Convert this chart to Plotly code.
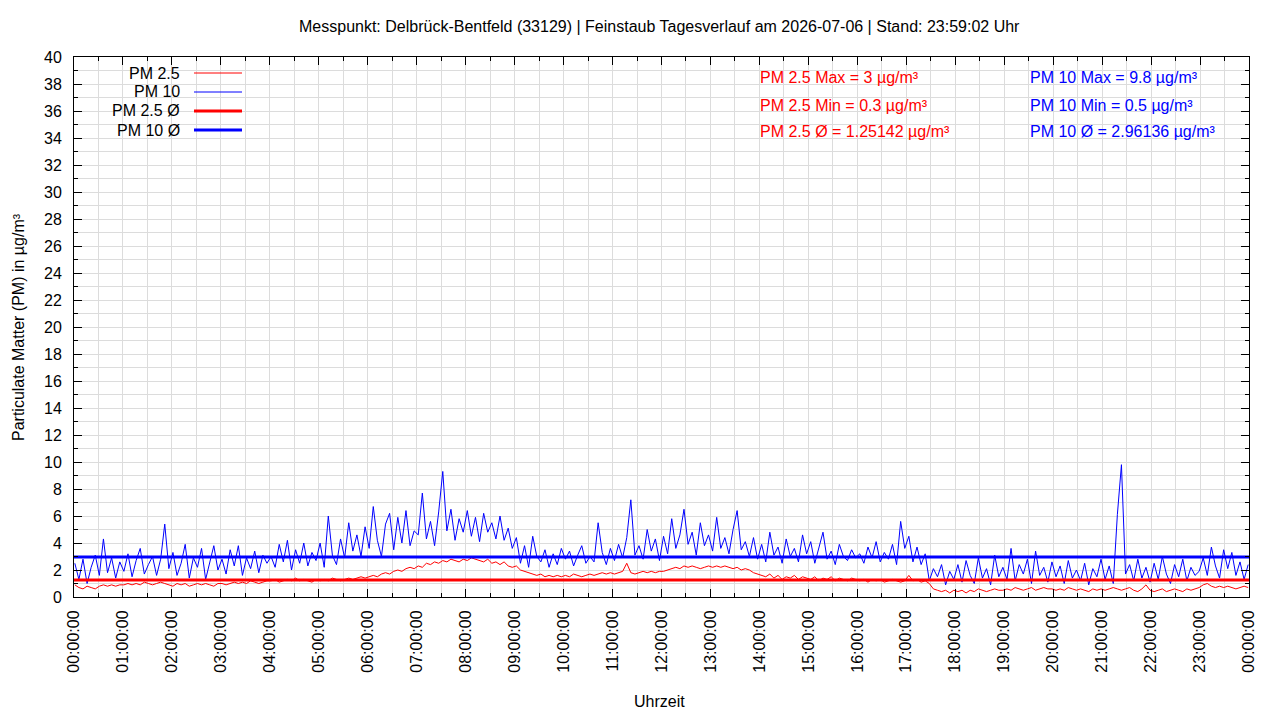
import pandas as pd
import plotly.graph_objects as go

TITLE = "Messpunkt: Delbrück-Bentfeld (33129) | Feinstaub Tagesverlauf am 2026-07-06 | Stand: 23:59:02 Uhr"
DAY = "2026-07-06"

# PM10 values, 5-minute steps, one row per hour
pm10 = [
    2.5, 1.3, 2.8, 1.0, 2.2, 3.1, 1.6, 4.3, 1.8, 2.9, 1.4, 2.6,
    1.9, 3.2, 1.5, 2.7, 3.6, 1.7, 2.4, 3.0, 1.6, 2.8, 5.4, 2.1,
    3.3, 1.6, 2.5, 3.9, 1.4, 2.9, 2.2, 3.6, 1.3, 2.6, 3.8, 2.0,
    2.8, 1.7, 3.5, 2.3, 3.8, 1.6, 2.9, 2.1, 3.4, 1.8, 3.1, 2.5,
    3.0, 2.2, 3.9, 2.6, 4.2, 2.0, 3.5, 2.5, 4.0, 2.3, 3.3, 2.7,
    4.0, 2.2, 6.0, 3.1, 2.4, 4.3, 2.9, 5.5, 3.4, 4.6, 3.0, 5.2,
    3.6, 6.7, 4.2, 3.0, 5.4, 6.2, 3.5, 5.9, 4.0, 6.4, 3.8, 4.9,
    4.6, 7.7, 4.3, 5.6, 3.8, 6.3, 9.3, 4.9, 6.5, 4.2, 5.8, 4.8,
    6.4, 4.5, 5.9, 4.1, 6.2, 4.8, 5.5, 4.3, 6.0, 4.2, 5.1, 3.6,
    4.4, 2.5, 3.8, 2.2, 4.5, 3.0, 2.6, 3.5, 2.2, 3.2, 2.4, 3.6,
    2.8, 3.4, 2.3, 3.1, 3.8, 2.5, 3.0, 2.6, 5.5, 3.3, 2.4, 3.6,
    2.7, 3.9, 2.9, 4.4, 7.2, 3.1, 3.8, 2.8, 5.0, 3.4, 4.3, 2.7,
    4.5, 3.2, 5.8, 3.6, 4.6, 6.5, 3.9, 4.8, 3.1, 5.5, 3.8, 4.6,
    3.4, 5.9, 3.6, 4.4, 3.2, 5.0, 6.4, 3.5, 4.1, 3.0, 4.4, 2.8,
    3.9, 2.6, 4.8, 3.1, 3.7, 2.5, 4.3, 3.0, 3.6, 2.6, 4.6, 3.2,
    4.1, 2.5, 3.6, 4.8, 2.8, 3.4, 2.4, 3.9, 3.0, 2.7, 3.5, 2.9,
    3.2, 2.5, 3.7, 2.9, 4.1, 2.6, 3.3, 2.8, 3.9, 2.4, 5.6, 3.6,
    4.5, 2.6, 3.7, 2.4, 3.2, 1.2, 2.1, 1.5, 2.4, 0.9, 1.9, 1.3,
    2.4, 1.1, 2.7, 1.6, 1.0, 2.9, 1.4, 2.1, 0.9, 3.1, 1.5, 2.2,
    1.3, 3.6, 1.2, 2.4, 1.7, 2.8, 1.0, 3.4, 1.6, 2.2, 1.1, 2.6,
    1.5, 2.3, 1.0, 2.7, 1.4, 2.0, 1.2, 2.5, 0.9, 2.1, 1.5, 2.8,
    1.3, 2.3, 1.0, 6.1, 9.8, 1.7, 2.4, 1.2, 2.8, 1.4, 2.2, 1.1,
    2.5, 1.3, 3.0, 1.7, 1.0, 2.4, 1.5, 2.8, 1.2, 2.2, 1.6, 1.9,
    2.9, 1.6, 3.7, 2.3, 1.4, 3.5, 2.1, 3.3, 1.6, 2.6, 1.3, 2.4,
]

# PM2.5 values, 5-minute steps, one row per hour
pm25 = [
    0.9, 0.7, 0.6, 0.8, 0.7, 0.6, 0.8, 0.9, 0.8, 0.9, 0.8, 0.9,
    0.9, 1.0, 0.9, 1.0, 0.9, 1.1, 1.0, 0.9, 1.0, 1.1, 1.0, 0.9,
    0.8, 1.0, 0.9, 1.0, 0.8, 0.9, 1.0, 0.9, 1.0, 0.9, 0.8, 1.0,
    1.0, 0.9, 1.0, 1.1, 1.0, 1.1, 1.0, 1.2, 1.1, 1.0, 1.1, 1.2,
    1.2, 1.3, 1.1, 1.2, 1.3, 1.2, 1.4, 1.2, 1.3, 1.2, 1.1, 1.3,
    1.2, 1.3, 1.2, 1.4, 1.3, 1.2, 1.3, 1.4, 1.3, 1.4, 1.5, 1.4,
    1.5, 1.6, 1.5, 1.7, 1.8, 1.7, 1.9, 2.0, 1.9, 2.1, 2.2, 2.1,
    2.3, 2.2, 2.5, 2.4, 2.6, 2.5, 2.7, 2.6, 2.8, 2.7, 2.6, 2.8,
    2.7, 2.9, 2.8, 2.7, 2.6, 2.8, 2.5, 2.6, 2.4, 2.6, 2.3, 2.2,
    2.3, 2.0, 1.9, 1.8, 1.7, 1.6, 1.7, 1.5, 1.6, 1.5, 1.6, 1.5,
    1.6, 1.5, 1.7, 1.6, 1.5, 1.6, 1.7, 1.6, 1.7, 1.8, 1.7, 1.8,
    1.7, 1.8, 1.9, 2.5, 1.8, 1.7, 1.8, 1.9, 1.8, 1.9, 1.8, 1.9,
    1.9, 2.0, 2.1, 2.2, 2.1, 2.3, 2.2, 2.3, 2.2, 2.1, 2.2, 2.3,
    2.2, 2.3, 2.2, 2.3, 2.2, 2.1, 2.2, 2.0, 2.1, 2.0, 1.8, 1.7,
    1.6, 1.5, 1.7, 1.4, 1.6, 1.3, 1.5, 1.4, 1.6, 1.3, 1.5, 1.4,
    1.3, 1.5, 1.2, 1.4, 1.3, 1.5, 1.2, 1.4, 1.3, 1.2, 1.4, 1.3,
    1.2, 1.3, 1.1, 1.3, 1.2, 1.3, 1.1, 1.2, 1.3, 1.2, 1.1, 1.2,
    1.6, 1.2, 1.3, 1.1, 1.2, 1.0, 0.6, 0.5, 0.4, 0.5, 0.3, 0.5,
    0.4, 0.5, 0.3, 0.5, 0.4, 0.6, 0.5, 0.4, 0.5, 0.6, 0.5, 0.5,
    0.6, 0.5, 0.7, 0.6, 0.5, 0.6, 0.7, 0.5, 0.6, 0.7, 0.6, 0.6,
    0.5, 0.6, 0.5, 0.7, 0.6, 0.5, 0.6, 0.5, 0.4, 0.6, 0.5, 0.6,
    0.5, 0.6, 0.7, 0.6, 0.5, 0.6, 0.7, 0.5, 0.4, 0.6, 0.9, 0.5,
    0.4, 0.5, 0.6, 0.4, 0.5, 0.6, 0.5, 0.4, 0.6, 0.5, 0.6, 0.7,
    0.9, 1.0, 0.8, 0.7, 0.8, 0.7, 0.8, 0.7, 0.6, 0.7, 0.8, 0.7,
]

pm25_max, pm25_min, pm25_avg = 3, 0.3, 1.25142
pm10_max, pm10_min, pm10_avg = 9.8, 0.5, 2.96136

times = pd.date_range(f"{DAY} 00:01:00", f"{DAY} 23:59:00", periods=len(pm10))
day_start = pd.Timestamp(f"{DAY} 00:00:00")
day_end = day_start + pd.Timedelta(days=1)

RED = "#ff0000"
BLUE = "#0000ff"
FONT = "Liberation Sans, Arial, sans-serif"

fig = go.Figure()
fig.add_trace(go.Scatter(x=times, y=pm25, mode="lines", line=dict(color=RED, width=1), name="PM 2.5"))
fig.add_trace(go.Scatter(x=times, y=pm10, mode="lines", line=dict(color=BLUE, width=1), name="PM 10"))
fig.add_trace(go.Scatter(x=[day_start, day_end], y=[pm25_avg, pm25_avg], mode="lines",
                         line=dict(color=RED, width=3), name="PM 2.5 Ø"))
fig.add_trace(go.Scatter(x=[day_start, day_end], y=[pm10_avg, pm10_avg], mode="lines",
                         line=dict(color=BLUE, width=3), name="PM 10 Ø"))

axis_common = dict(
    showline=True, linecolor="black", linewidth=1, mirror="allticks",
    ticks="inside", tickcolor="black", ticklen=8, tickwidth=1,
    showgrid=True, gridcolor="#dcdcdc", gridwidth=1,
    zeroline=False, automargin=False,
    tickfont=dict(family=FONT, size=16, color="black"),
)

fig.update_xaxes(
    **axis_common,
    type="date", range=[day_start, day_end],
    dtick=3600000, tick0=day_start, tickformat="%H:%M:%S", tickangle=-90,
    minor=dict(dtick=1800000, tick0=day_start, showgrid=True, gridcolor="#dcdcdc",
               ticks="inside", ticklen=4, tickcolor="black"),
    ticklabelstandoff=6,
)
fig.update_yaxes(
    **axis_common,
    range=[0, 40], dtick=2, tick0=0,
    minor=dict(dtick=1, showgrid=True, gridcolor="#dcdcdc",
               ticks="inside", ticklen=4, tickcolor="black"),
    ticklabelstandoff=8,
)

# The page adds an 8px body margin; the figure is sized to fit the window.
OFF = 8
W, H = 1280 - 2 * OFF, 720 - 2 * OFF
PL, PR, PT, PB = 74, 1249, 57, 597  # plot-area edges in window pixels
fig.update_layout(
    width=W, height=H,
    margin=dict(l=PL - OFF, r=W - (PR - OFF), t=PT - OFF, b=H - (PB - OFF)),
    paper_bgcolor="white", plot_bgcolor="white",
    showlegend=False,
    font=dict(family=FONT, size=16, color="black"),
)

def px(x):
    return (x - PL) / (PR - PL)
def py(y):
    return (PB - y) / (PB - PT)

ann = [
    dict(text=TITLE, x=px(659), y=py(27), xref="paper", yref="paper", showarrow=False,
         xanchor="center", yanchor="middle", font=dict(size=16)),
    dict(text="Uhrzeit", x=px(659), y=py(701), xref="paper", yref="paper", showarrow=False,
         xanchor="center", yanchor="middle", font=dict(size=16)),
    dict(text="Particulate Matter (PM) in µg/m³", x=px(18), y=py(327), xref="paper", yref="paper",
         showarrow=False, textangle=-90, xanchor="center", yanchor="middle", font=dict(size=16)),
]

legend_items = [("PM 2.5", RED, 1), ("PM 10", BLUE, 1), ("PM 2.5 Ø", RED, 3), ("PM 10 Ø", BLUE, 3)]
shapes = []
for i, (label, col, w) in enumerate(legend_items):
    yy = 73 + i * 19
    ann.append(dict(text=label, x=px(182), y=py(yy), xref="paper", yref="paper", showarrow=False,
                    xanchor="right", yanchor="middle", font=dict(size=16)))
    shapes.append(dict(type="line", xref="paper", yref="paper", x0=px(194), x1=px(242),
                       y0=py(yy), y1=py(yy), line=dict(color=col, width=w)))

stats_red = [f"PM 2.5 Max = {pm25_max} µg/m³", f"PM 2.5 Min = {pm25_min} µg/m³", f"PM 2.5 Ø = {pm25_avg} µg/m³"]
stats_blue = [f"PM 10 Max = {pm10_max} µg/m³", f"PM 10 Min = {pm10_min} µg/m³", f"PM 10 Ø = {pm10_avg} µg/m³"]
for i, (tr, tb) in enumerate(zip(stats_red, stats_blue)):
    yy = 78 + i * 27
    ann.append(dict(text=tr, x=px(758), y=py(yy), xref="paper", yref="paper", showarrow=False,
                    xanchor="left", yanchor="middle", font=dict(size=16, color=RED)))
    ann.append(dict(text=tb, x=px(1028), y=py(yy), xref="paper", yref="paper", showarrow=False,
                    xanchor="left", yanchor="middle", font=dict(size=16, color=BLUE)))

fig.update_layout(annotations=ann, shapes=shapes)
fig.write_html("out.html")
